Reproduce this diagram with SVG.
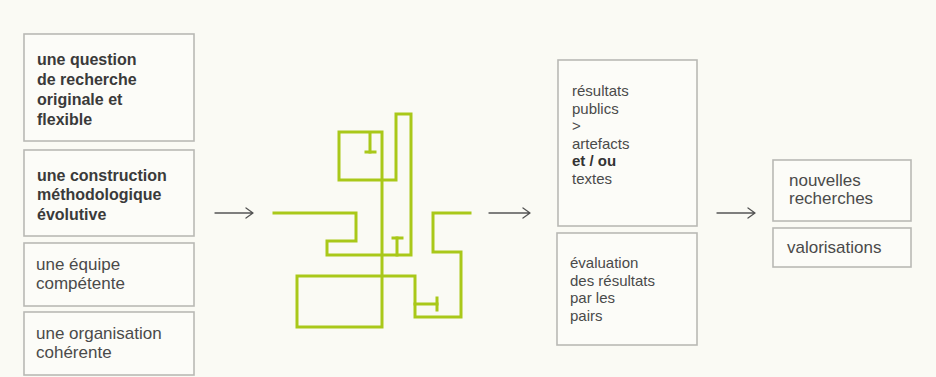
<svg xmlns="http://www.w3.org/2000/svg" width="936" height="377" viewBox="0 0 936 377">
<defs>
<style>
.bg{fill:#fafaf4}
.box{fill:#fcfcf8;stroke:#b9b9b5;stroke-width:1.6}
.t{font-family:"Liberation Sans",Arial,sans-serif;font-size:17px;fill:#4a4a4a}
.m{font-family:"Liberation Sans",Arial,sans-serif;font-size:15px;fill:#4a4a4a}
.b{font-family:"Liberation Sans",Arial,sans-serif;font-size:16px;font-weight:bold;fill:#3a3a3a}
.arrow{fill:none;stroke:#555;stroke-width:1.3;stroke-linecap:round;stroke-linejoin:round}
.maze{fill:none;stroke:#a9c819;stroke-width:3;stroke-linecap:square;stroke-linejoin:miter}
</style>
</defs>
<rect class="bg" x="0" y="0" width="936" height="377"/>

<g id="n-question">
<rect class="box" x="24" y="34" width="170" height="107"/>
<text class="b"><tspan x="37" y="65">une question</tspan><tspan x="37" y="85">de recherche</tspan><tspan x="37" y="105">originale et</tspan><tspan x="37" y="125">flexible</tspan></text>
</g>
<g id="n-construction">
<rect class="box" x="24" y="150" width="170" height="86"/>
<text class="b"><tspan x="37" y="181">une construction</tspan><tspan x="37" y="200">méthodologique</tspan><tspan x="37" y="220">évolutive</tspan></text>
</g>
<g id="n-equipe">
<rect class="box" x="24" y="243" width="170" height="63"/>
<text class="t"><tspan x="36" y="270">une équipe</tspan><tspan x="36" y="289">compétente</tspan></text>
</g>
<g id="n-organisation">
<rect class="box" x="24" y="312" width="170" height="63"/>
<text class="t"><tspan x="36" y="339">une organisation</tspan><tspan x="36" y="358">cohérente</tspan></text>
</g>

<g id="n-process">
<polyline class="maze" points="274,213 356,213 356,241 327,241 327,255 411,255 411,114 396,114 396,180 339,180 339,132 382,132 382,327 297,327 297,276 415,276 415,317 461,317 461,252 433,252 433,213 470,213"/>
<polyline class="maze" points="370,133 370,152"/>
<line class="maze" x1="366" y1="152" x2="375" y2="152"/>
<polyline class="maze" points="397,255 397,238"/>
<line class="maze" x1="393" y1="238" x2="402" y2="238"/>
<polyline class="maze" points="415,304 437,304"/>
<line class="maze" x1="437" y1="298" x2="437" y2="310"/>
</g>

<g id="n-resultats">
<rect class="box" x="558" y="60" width="139" height="166"/>
<text class="m"><tspan x="572" y="96">résultats</tspan><tspan x="572" y="113.5">publics</tspan><tspan x="572" y="131">&gt;</tspan><tspan x="572" y="148.5">artefacts</tspan><tspan x="572" y="166" font-weight="bold" fill="#333">et / ou</tspan><tspan x="572" y="183.5">textes</tspan></text>
</g>
<g id="n-evaluation">
<rect class="box" x="557" y="233" width="140" height="112"/>
<text class="m"><tspan x="570" y="268">évaluation</tspan><tspan x="570" y="285.5">des résultats</tspan><tspan x="570" y="303">par les</tspan><tspan x="570" y="320.5">pairs</tspan></text>
</g>
<g id="n-nouvelles">
<rect class="box" x="773" y="160" width="138" height="61"/>
<text class="t"><tspan x="789" y="186">nouvelles</tspan><tspan x="789" y="204">recherches</tspan></text>
</g>
<g id="n-valorisations">
<rect class="box" x="773" y="228" width="138" height="39"/>
<text class="t" x="787" y="253">valorisations</text>
</g>

<g id="connectors">
<path class="arrow" d="M215,213 H253 M246,208 L253,213 L246,218"/>
<path class="arrow" d="M489,213 H530 M523,208 L530,213 L523,218"/>
<path class="arrow" d="M717,213 H755 M748,208 L755,213 L748,218"/>
</g>
</svg>
